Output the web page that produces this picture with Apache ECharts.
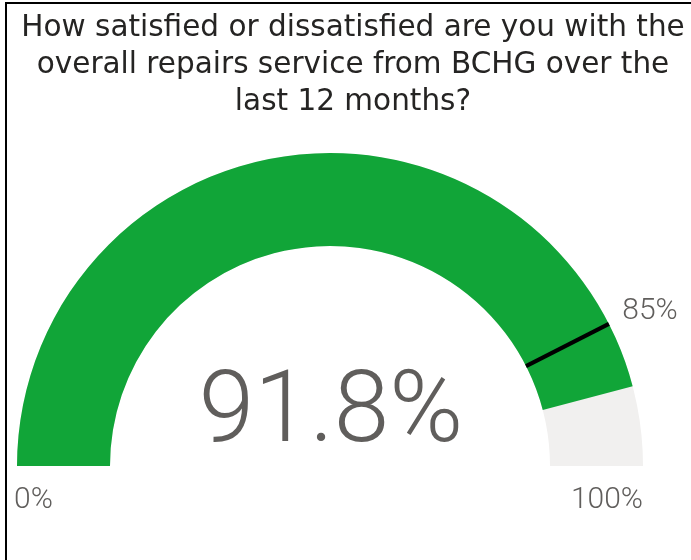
<!DOCTYPE html>
<html>
<head>
<meta charset="utf-8">
<script src="https://cdn.jsdelivr.net/npm/echarts@6/dist/echarts.min.js"></script>
<style>
html, body { margin: 0; padding: 0; background: #fff; }
#wrap { position: relative; width: 691px; height: 560px; }
#main { position: absolute; left: 0; top: 0; width: 691px; height: 560px; }
#frame { position: absolute; left: 5px; top: 2px; right: 0; bottom: 0;
  border-left: 2px solid #000; border-top: 2px solid #000; pointer-events: none; }
</style>
</head>
<body>
<div id="wrap">
  <div id="main"></div>
  <div id="frame"></div>
</div>
<script>
var titleLines = ['How satisfied or dissatisfied are you with the',
	'overall repairs service from BCHG over the', 'last 12 months?'];
var scoreValues = [91.8];
var targetValues = [85];
var gaugeRange = [0, 100];
var tickLabels = ['0%', '100%'];

var labelFont = 'Roboto';
var textGrey = '#605E5C';

var chart = echarts.init(document.getElementById('main'));
var option = {
	animation : false,
	title : {
		text : titleLines.join('\n'),
		left : 353,
		top : 10,
		padding : 0,
		textAlign : 'center',
		textStyle : {
			fontFamily : "'DejaVu Sans', sans-serif",
			fontSize : 29.5,
			fontWeight : 'normal',
			lineHeight : 37,
			color : '#252423'
		}
	},
	series : [ {
		// main gauge
		type : 'gauge',
		z : 2,
		center : [ 330, 466 ],
		radius : 313,
		startAngle : 180,
		endAngle : 0,
		min : gaugeRange[0],
		max : gaugeRange[1],
		axisLine : {
			lineStyle : { width : 93, color : [ [ 1, '#F1F0EF' ] ] }
		},
		progress : {
			show : true,
			width : 93,
			itemStyle : { color : '#11A538' }
		},
		pointer : { show : false },
		anchor : { show : false },
		axisTick : { show : false },
		splitLine : { show : false },
		axisLabel : { show : false },
		title : { show : false },
		detail : {
			offsetCenter : [ 1, -50 ],
			fontFamily : labelFont,
			fontWeight : 300,
			fontSize : 100,
			color : textGrey,
			formatter : function(v) { return v.toFixed(1) + '%'; }
		},
		data : [ { value : scoreValues[0] } ]
	}, {
		// target marker
		type : 'gauge',
		z : 6,
		center : [ 330, 466 ],
		radius : 313,
		startAngle : 180,
		endAngle : 0,
		min : gaugeRange[0],
		max : gaugeRange[1],
		axisLine : { show : false },
		progress : { show : false },
		pointer : {
			show : true,
			icon : 'rect',
			length : 93,
			width : 4,
			offsetCenter : [ 0, -220 ],
			itemStyle : { color : '#000' }
		},
		anchor : { show : false },
		axisTick : { show : false },
		splitLine : { show : false },
		axisLabel : { show : false },
		title : { show : false },
		detail : {
			offsetCenter : [ 320, -155 ],
			fontFamily : labelFont,
			fontWeight : 300,
			fontSize : 30,
			color : textGrey,
			formatter : function(v) { return v + '%'; }
		},
		data : [ { value : targetValues[0] } ]
	} ],
	graphic : [ {
		type : 'text',
		left : 14,
		top : 485,
		style : { text : tickLabels[0], font : '300 30px ' + labelFont, fill : textGrey }
	}, {
		type : 'text',
		right : 48,
		top : 485,
		style : { text : tickLabels[1], font : '300 30px ' + labelFont, fill : textGrey }
	} ]
};
chart.setOption(option);
</script>
</body>
</html>
